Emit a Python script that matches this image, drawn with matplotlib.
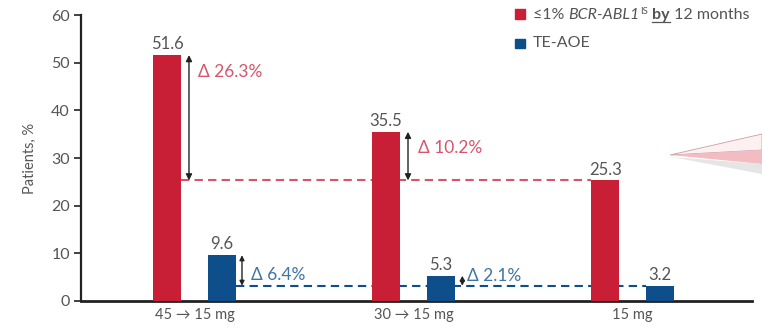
import matplotlib.pyplot as plt
from matplotlib.patches import Polygon

plt.rcParams['font.family'] = ['Lato', 'DejaVu Sans']

groups = ["45 \u2192 15 mg", "30 \u2192 15 mg", "15 mg"]
response = [51.6, 35.5, 25.3]   # <=1% BCR-ABL1 IS by 12 months
te_aoe = [9.6, 5.3, 3.2]
resp_delta = ["\u0394 26.3%", "\u0394 10.2%"]
aoe_delta = ["\u0394 6.4%", "\u0394 2.1%"]

RED = "#c81e36"
BLUE = "#0e4f8b"
RED_TXT = "#d9546a"
BLUE_TXT = "#3f74a6"
GREY = "#555555"

w = 0.128
off = 0.125
x = list(range(len(groups)))

fig = plt.figure(figsize=(7.62, 3.30), dpi=100)
ax = fig.add_axes([0.1063, 0.0879, 0.8807, 0.8666])

ax.bar([i - off for i in x], response, width=w, color=RED, zorder=3)
ax.bar([i + off for i in x], te_aoe, width=w, color=BLUE, zorder=3)

for i in x:
    ax.text(i - off, response[i] + 0.6, f"{response[i]:.1f}", ha="center",
            va="bottom", fontsize=12, color=GREY)
    ax.text(i + off, te_aoe[i] + 0.6, f"{te_aoe[i]:.1f}", ha="center",
            va="bottom", fontsize=12, color=GREY)

# reference lines at the 15 mg level
ax.hlines(response[2], -off + w / 2, 2 - off - w / 2, color=RED_TXT,
          linestyles=(0, (4, 2.5)), lw=1.5, zorder=2)
ax.hlines(te_aoe[2], off + w / 2, 2 + off - w / 2, color=BLUE,
          linestyles=(0, (4, 2.5)), lw=1.5, zorder=2)

# difference arrows
ax_x = [-off + 0.1, 1 - off + 0.1]
for i, lab in enumerate(resp_delta):
    ax.annotate("", xy=(ax_x[i], response[i]), xytext=(ax_x[i], response[2]),
                arrowprops=dict(arrowstyle="<|-|>", color="#222222", lw=1.0,
                                mutation_scale=9, shrinkA=0, shrinkB=0))
ax.text(ax_x[0] + 0.04, 48.0, resp_delta[0], color=RED_TXT, fontsize=12.5,
        va="center", ha="left")
ax.text(ax_x[1] + 0.045, 32.2, resp_delta[1], color=RED_TXT, fontsize=12.5,
        va="center", ha="left")

bx_x = [off + 0.092, 1 + off + 0.098]
for i, lab in enumerate(aoe_delta):
    ax.annotate("", xy=(bx_x[i], te_aoe[i]), xytext=(bx_x[i], te_aoe[2]),
                arrowprops=dict(arrowstyle="<|-|>", color="#222222", lw=1.0,
                                mutation_scale=7, shrinkA=0, shrinkB=0))
ax.text(bx_x[0] + 0.04, 5.5, aoe_delta[0], color=BLUE_TXT, fontsize=12.5,
        va="center", ha="left")
ax.text(bx_x[1] + 0.02, 5.3, aoe_delta[1], color=BLUE_TXT, fontsize=12.5,
        va="center", ha="left")

ax.set_xlim(-0.518, 2.546)
ax.set_ylim(0, 60)
ax.set_yticks(range(0, 61, 10))
ax.set_xticks(x)
ax.set_xticklabels(groups)
ax.tick_params(axis="x", length=0, pad=5, labelsize=10.5, labelcolor=GREY)
ax.tick_params(axis="y", length=5, width=1.2, labelsize=11.5, labelcolor=GREY,
               color="#222222", pad=3)
ax.set_ylabel("Patients, %", fontsize=10.5, color=GREY, labelpad=10)
for s in ["top", "right"]:
    ax.spines[s].set_visible(False)
ax.spines["left"].set_linewidth(1.6)
ax.spines["bottom"].set_linewidth(2.0)
ax.spines["left"].set_color("#222222")
ax.spines["bottom"].set_color("#222222")

# legend
fig.patches.append(plt.Rectangle((515 / 762, 1 - 19 / 330), 10 / 762, 10 / 330,
                                 transform=fig.transFigure, color=RED))
fig.patches.append(plt.Rectangle((515 / 762, 1 - 48 / 330), 10 / 762, 9 / 330,
                                 transform=fig.transFigure, color=BLUE))

# first legend entry is built from runs of differently styled text
runs = [
    ("\u22641% ", {}),
    ("BCR-ABL1", {"style": "italic"}),
    ("IS", {"fontsize": 7, "dy": 4}),
    (" ", {}),
    ("by", {"weight": "bold", "underline": True}),
    (" 12 months", {}),
]
renderer = fig.canvas.get_renderer()
px = 533.0
base_y = 330 - 15
for txt, st in runs:
    fs = st.get("fontsize", 11.5)
    t = fig.text(px / 762, (base_y + st.get("dy", 0)) / 330, txt, fontsize=fs,
                 color=GREY, va="center", ha="left",
                 style=st.get("style", "normal"),
                 weight=st.get("weight", "normal"))
    bb = t.get_window_extent(renderer)
    if st.get("underline"):
        fig.add_artist(plt.Line2D([bb.x0 / 762, bb.x1 / 762],
                                  [(base_y - 7) / 330] * 2, color=GREY,
                                  lw=0.9, transform=fig.transFigure))
    px = bb.x1 if txt.strip() else bb.x0 + fs * 0.28 * 100 / 72

fig.text(533 / 762, 1 - 43 / 330, "TE-AOE", fontsize=11.5, color=GREY,
         va="center", ha="left")

# callout wedge at the right edge
shadow = Polygon([(672 / 762, 1 - 157 / 330), (762 / 762, 1 - 164 / 330),
                  (762 / 762, 1 - 174 / 330)], closed=True,
                 transform=fig.transFigure, color="#aaaaaa", alpha=0.3, lw=0)
wedge_top = Polygon([(670 / 762, 1 - 155 / 330), (762 / 762, 1 - 134 / 330),
                     (762 / 762, 1 - 150 / 330)], closed=True,
                    transform=fig.transFigure, facecolor="#fdf0f1",
                    edgecolor="#c9a0a6", lw=0.6)
wedge_low = Polygon([(670 / 762, 1 - 155 / 330), (762 / 762, 1 - 150 / 330),
                     (762 / 762, 1 - 164 / 330)], closed=True,
                    transform=fig.transFigure, facecolor="#f3bcc3", lw=0)
fig.patches.extend([shadow, wedge_top, wedge_low])

fig.savefig("out.png", dpi=100)
